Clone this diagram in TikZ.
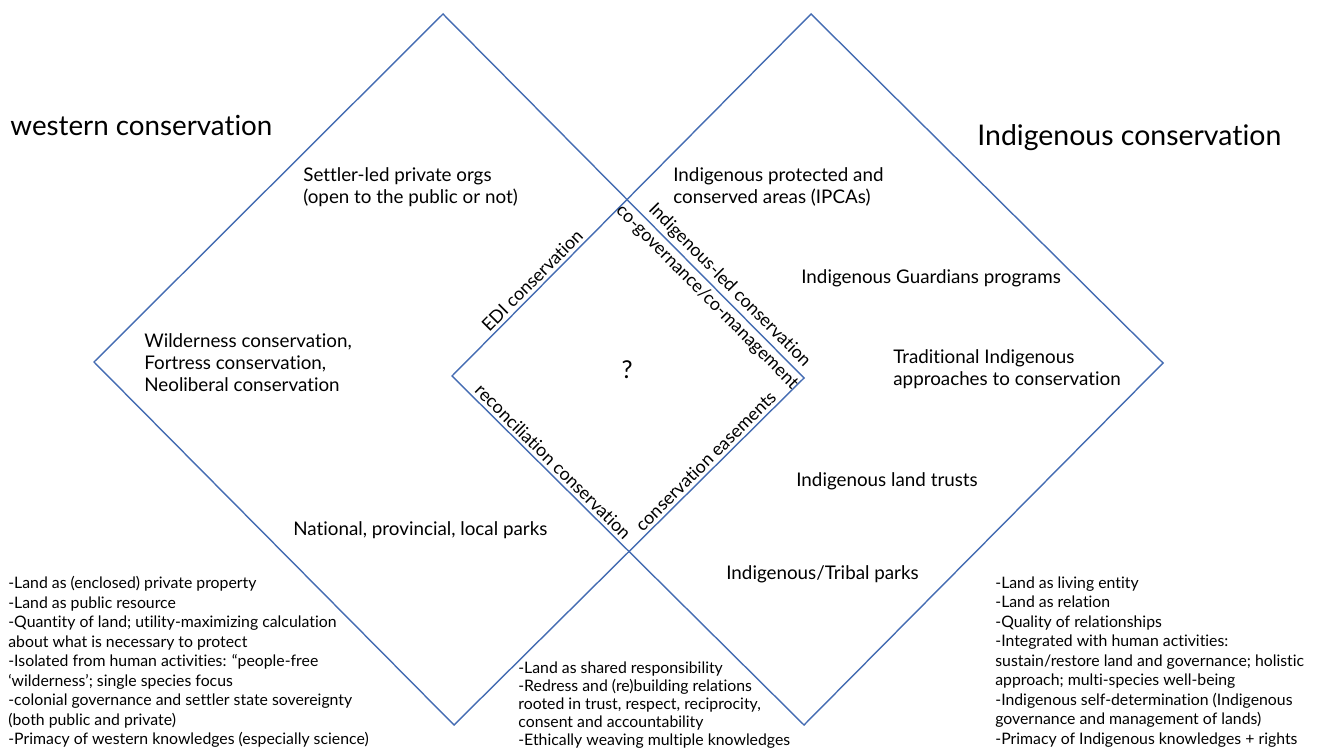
\documentclass[tikz,border=0pt]{standalone}
\usepackage{fontspec}
\setmainfont{Lato}[Ligatures=TeX, RawFeature={-liga;-clig;-dlig;-calt}]
\usepackage{xcolor}
\usepackage{tikz}
\usetikzlibrary{positioning}
\definecolor{lineblue}{RGB}{68,108,178}

\begin{document}
\begin{tikzpicture}[x=0.02cm, y=-0.02cm,
  frame/.style={draw=lineblue, line width=0.8pt, line join=miter},
  title/.style={anchor=west, inner sep=0pt, font=\fontsize{15.8}{19}\selectfont},
  lbl/.style={anchor=west, inner sep=0pt, align=left, font=\fontsize{10.7}{12.5}\selectfont},
  edgelbl/.style={sloped, inner sep=2pt, font=\fontsize{10.2}{12}\selectfont},
  note/.style={anchor=west, inner sep=0pt, align=left, font=\fontsize{9}{11.1}\selectfont}]
\useasboundingbox (0,0) rectangle (1317,749);

% Define corners
\coordinate (wT) at (443,14);
\coordinate (wL) at (94,362);
\coordinate (wB) at (454,725);
\coordinate (wR) at (804,378);
\coordinate (iT) at (811,14);
\coordinate (iL) at (452,376);
\coordinate (iB) at (804,725);
\coordinate (iR) at (1163,363);
\coordinate (mT) at (intersection of wT--wR and iL--iT);
\coordinate (mB) at (intersection of wR--wB and iL--iB);

% Draw diamonds
\draw[frame] (wT) -- (wR) -- (wB) -- (wL) -- cycle;
\draw[frame] (iT) -- (iR) -- (iB) -- (iL) -- cycle;

% Labels on the inner edges
\path (iL) -- (mT) node[edgelbl, above, pos=0.5] (edi) {EDI conservation};
\path (mT) -- (wR) node[edgelbl, above, pos=0.53] (indled) {Indigenous-led conservation};
\path (mT) -- (wR) node[edgelbl, below, pos=0.5] (cogov) {co-governance/co-management};
\path (iL) -- (mB) node[edgelbl, above, pos=0.53] (recon) {reconciliation conservation};
\path (mB) -- (wR) node[edgelbl, above, pos=0.48] (ease) {conservation easements};

% Define nodes
\node[title] (western) at (10,125) {western conservation};
\node[title, font=\fontsize{16.2}{19}\selectfont] (indig) at (977,138) {Indigenous conservation};

\node[lbl] (settler) at (303,187) {Settler-led private orgs\\(open to the public or not)};
\node[lbl] (wild) at (144,363) {Wilderness conservation,\\Fortress conservation,\\Neoliberal conservation};
\node[lbl] (parks) at (293,530) {National, provincial, local parks};
\node[lbl] (ipca) at (673,187) {Indigenous protected and\\conserved areas (IPCAs)};
\node[lbl] (guard) at (801,278) {Indigenous Guardians programs};
\node[lbl] (trad) at (893,369) {Traditional Indigenous\\approaches to conservation};
\node[lbl] (trusts) at (796,481) {Indigenous land trusts};
\node[lbl] (tribal) at (726,574) {Indigenous/Tribal parks};
\node[inner sep=0pt, font=\fontsize{14}{16}\selectfont] (quest) at (627,370) {?};

\node[note] (wnote) at (8,662) {-Land as (enclosed) private property\\
-Land as public resource\\
-Quantity of land; utility-maximizing calculation\\
about what is necessary to protect\\
-Isolated from human activities: “people-free\\
‘wilderness’; single species focus\\
-colonial governance and settler state sovereignty\\
(both public and private)\\
-Primacy of western knowledges (especially science)};
\node[note, font=\fontsize{9}{10.3}\selectfont] (mnote) at (518,705) {-Land as shared responsibility\\
-Redress and (re)building relations\\
rooted in trust, respect, reciprocity,\\
consent and accountability\\
-Ethically weaving multiple knowledges};
\node[note] (inote) at (995,662) {-Land as living entity\\
-Land as relation\\
-Quality of relationships\\
-Integrated with human activities:\\
sustain/restore land and governance; holistic\\
approach; multi-species well-being\\
-Indigenous self-determination (Indigenous\\
governance and management of lands)\\
-Primacy of Indigenous knowledges + rights};
\end{tikzpicture}
\end{document}
